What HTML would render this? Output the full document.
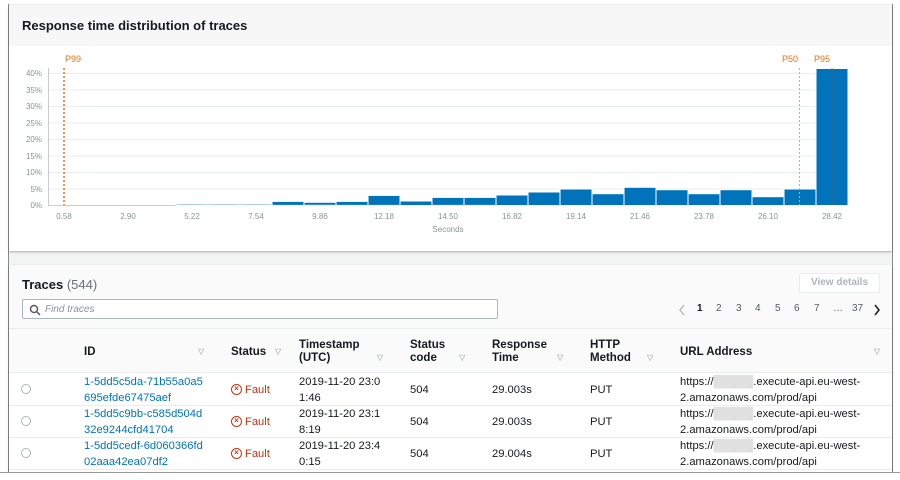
<!DOCTYPE html>
<html><head><meta charset="utf-8"><style>
*{margin:0;padding:0;box-sizing:border-box}
body{width:900px;height:480px;background:#fff;font-family:"Liberation Sans",Arial,sans-serif;position:relative;overflow:hidden}
.frame{position:absolute;left:8px;top:4px;width:885px;height:470px;background:#f2f3f3;border-left:1px solid #888;border-right:1px solid #888}
.p{position:absolute;left:9px;width:883px;background:#fff;box-shadow:0 1px 2px rgba(0,0,0,.3)}
.a{position:absolute;white-space:nowrap}
.h{font-weight:bold;color:#16191f;font-size:11.5px;line-height:13px}
.c{font-size:11.2px;color:#16191f;line-height:16px}
.lnk{color:#0073bb}
.tri{font-size:8px;color:#879596}
.pg{position:absolute;top:38px;font-size:10px;color:#545b64}
.f{display:inline-block;width:11px;height:11px;border:1.5px solid #d13212;border-radius:50%;font-size:8px;line-height:8px;text-align:center;font-weight:bold;vertical-align:top;margin-top:2px;margin-right:3px}
</style></head><body>
<div class="frame"></div>
<div class="p" style="top:5px;height:246px">
 <div style="position:absolute;left:0;top:0;width:100%;height:41px;background:#f7f7f7"></div>
 <div class="a" style="left:13px;top:13px;font-weight:bold;font-size:13px;color:#16191f">Response time distribution of traces</div>
</div>
<svg style="position:absolute;left:0;top:0" width="900" height="260" font-family="Liberation Sans,Arial,sans-serif">
 <g stroke="#eaeded" stroke-width="1">
  <line x1="49" x2="848" y1="73.5" y2="73.5"/><line x1="49" x2="848" y1="90" y2="90"/><line x1="49" x2="848" y1="106.5" y2="106.5"/><line x1="49" x2="848" y1="123" y2="123"/><line x1="49" x2="848" y1="139.5" y2="139.5"/><line x1="49" x2="848" y1="156" y2="156"/><line x1="49" x2="848" y1="172.5" y2="172.5"/><line x1="49" x2="848" y1="189" y2="189"/>
 </g>
 <line x1="48.5" x2="48.5" y1="68" y2="206" stroke="#ccc"/>
 <line x1="48" x2="848" y1="205.5" y2="205.5" stroke="#ccc"/>
 <g font-size="8" fill="#879596" text-anchor="end">
  <text x="42" y="76">40%</text><text x="42" y="93">35%</text><text x="42" y="109">30%</text><text x="42" y="126">25%</text><text x="42" y="142">20%</text><text x="42" y="159">15%</text><text x="42" y="175">10%</text><text x="42" y="192">5%</text><text x="42" y="208">0%</text>
 </g>
 <g fill="#0073bb" stroke="#fff" stroke-width="1">
  <rect x="176" y="204" width="32" height="1.5" fill="#5a9fd4"/><rect x="208" y="204" width="32" height="1.5" fill="#5a9fd4"/><rect x="240" y="204" width="32" height="1.5" fill="#5a9fd4"/>
  <rect x="272" y="201.4" width="32" height="4"/><rect x="304" y="202.3" width="32" height="3"/><rect x="336" y="201.4" width="32" height="4"/><rect x="368" y="195.4" width="32" height="10"/><rect x="400" y="201" width="32" height="4.5"/><rect x="432" y="197.4" width="32" height="8"/><rect x="464" y="197.4" width="32" height="8"/><rect x="496" y="195" width="32" height="10.5"/><rect x="528" y="192" width="32" height="13.5"/><rect x="560" y="189" width="32" height="16.5"/><rect x="592" y="193.7" width="32" height="11.8"/><rect x="624" y="187.3" width="32" height="18.2"/><rect x="656" y="189.7" width="32" height="15.8"/><rect x="688" y="193.7" width="32" height="11.8"/><rect x="720" y="189.7" width="32" height="15.8"/><rect x="752" y="196.7" width="32" height="8.8"/><rect x="784" y="189" width="32" height="16.5"/><rect x="816" y="68.5" width="32" height="137"/>
 </g>
 <line x1="64" x2="64" y1="68" y2="205" stroke="#ec7211" stroke-width="1.5" stroke-dasharray="2,2"/>
 <line x1="799.5" x2="799.5" y1="68" y2="205" stroke="#f0a070" stroke-dasharray="2,2"/>
 <line x1="832" x2="832" y1="68" y2="205" stroke="#c04000" stroke-dasharray="2,2" opacity=".7"/>
 <g font-size="9" fill="#ec7211"><text x="65" y="62">P99</text><text x="782" y="62">P50</text><text x="814" y="62">P95</text></g>
 <g font-size="8" fill="#879596" text-anchor="middle">
  <text x="64" y="219">0.58</text><text x="128" y="219">2.90</text><text x="192" y="219">5.22</text><text x="256" y="219">7.54</text><text x="320" y="219">9.86</text><text x="384" y="219">12.18</text><text x="448" y="219">14.50</text><text x="512" y="219">16.82</text><text x="576" y="219">19.14</text><text x="640" y="219">21.46</text><text x="704" y="219">23.78</text><text x="768" y="219">26.10</text><text x="832" y="219">28.42</text>
  <text x="448" y="232">Seconds</text>
 </g>
</svg>
<div class="p" style="top:265px;height:215px">
 <div style="position:absolute;left:0;top:0;width:100%;height:108px;background:#fafafa"></div>
 <div class="a" style="left:13px;top:12px;font-size:13px"><b style="color:#16191f">Traces</b> <span style="color:#687078">(544)</span></div>
 <div class="a" style="left:13px;top:34px;width:476px;height:20px;border:1px solid #aab7b8;border-radius:2px;background:#fff"></div>
 <svg class="a" style="left:20px;top:39px" width="12" height="12"><circle cx="5" cy="5" r="3.5" fill="none" stroke="#545b64" stroke-width="1.5"/><line x1="7.5" y1="7.5" x2="11" y2="11" stroke="#545b64" stroke-width="1.5"/></svg>
 <div class="a" style="left:36px;top:39px;font-size:10px;font-style:italic;color:#879596">Find traces</div>
 <div class="a" style="left:790px;top:8px;width:81px;height:20px;border:1px solid #eaeded;border-radius:2px;background:#fff;font-size:10px;font-weight:bold;color:#aab7b8;text-align:center;line-height:18px">View details</div>
 <svg class="a" style="left:669px;top:39px" width="8" height="12"><polyline points="6,1 2,6 6,11" fill="none" stroke="#aab7b8" stroke-width="1.3"/></svg>
 <span class="pg" style="left:688px;font-weight:bold;color:#16191f">1</span>
 <span class="pg" style="left:707px">2</span><span class="pg" style="left:727px">3</span><span class="pg" style="left:746px">4</span><span class="pg" style="left:766px">5</span><span class="pg" style="left:785px">6</span><span class="pg" style="left:805px">7</span><span class="pg" style="left:824px">…</span><span class="pg" style="left:843px">37</span>
 <svg class="a" style="left:864px;top:39px" width="8" height="12"><polyline points="2,1 6,6 2,11" fill="none" stroke="#16191f" stroke-width="1.5"/></svg>
 <div style="position:absolute;left:0;top:63px;width:100%;height:45px;border-top:1px solid #eaeded;border-bottom:1px solid #eaeded"></div>
 <div class="a h" style="left:75px;top:81px">ID</div><div class="a tri" style="left:189px;top:82px">▽</div>
 <div class="a h" style="left:222px;top:81px">Status</div><div class="a tri" style="left:266px;top:82px">▽</div>
 <div class="a h" style="left:290px;top:74px">Timestamp<br>(UTC)</div><div class="a tri" style="left:368px;top:88px">▽</div>
 <div class="a h" style="left:401px;top:74px">Status<br>code</div><div class="a tri" style="left:450px;top:88px">▽</div>
 <div class="a h" style="left:483px;top:74px">Response<br>Time</div><div class="a tri" style="left:548px;top:88px">▽</div>
 <div class="a h" style="left:581px;top:74px">HTTP<br>Method</div><div class="a tri" style="left:638px;top:88px">▽</div>
 <div class="a h" style="left:671px;top:81px">URL Address</div><div class="a tri" style="left:865px;top:82px">▽</div>
 <div style="position:absolute;left:0;top:140px;width:100%;border-top:1px solid #eaeded"></div>
 <div style="position:absolute;left:0;top:172px;width:100%;border-top:1px solid #eaeded"></div>
 <div style="position:absolute;left:0;top:204px;width:100%;border-top:1px solid #eaeded"></div>
</div>
<div style="position:absolute;left:0;top:373px;width:900px">
 <div style="position:relative;height:32px">
  <div class="a" style="left:21px;top:11px;width:10px;height:10px;border:1px solid #aab7b8;border-radius:50%"></div>
  <div class="a c lnk" style="left:84px;top:1px">1-5dd5c5da-71b55a0a5<br>695efde67475aef</div>
  <div class="a c" style="left:231px;top:9px;color:#d13212"><span class="f">×</span>Fault</div>
  <div class="a c" style="left:299px;top:1px">2019-11-20 23:0<br>1:46</div>
  <div class="a c" style="left:410px;top:9px">504</div><div class="a c" style="left:492px;top:9px">29.003s</div><div class="a c" style="left:590px;top:9px">PUT</div>
  <div class="a c" style="left:680px;top:1px">https://<span style="color:#e0e0e0">█████</span>.execute-api.eu-west-<br>2.amazonaws.com/prod/api</div>
 </div>
 <div style="position:relative;height:32px">
  <div class="a" style="left:21px;top:11px;width:10px;height:10px;border:1px solid #aab7b8;border-radius:50%"></div>
  <div class="a c lnk" style="left:84px;top:1px">1-5dd5c9bb-c585d504d<br>32e9244cfd41704</div>
  <div class="a c" style="left:231px;top:9px;color:#d13212"><span class="f">×</span>Fault</div>
  <div class="a c" style="left:299px;top:1px">2019-11-20 23:1<br>8:19</div>
  <div class="a c" style="left:410px;top:9px">504</div><div class="a c" style="left:492px;top:9px">29.003s</div><div class="a c" style="left:590px;top:9px">PUT</div>
  <div class="a c" style="left:680px;top:1px">https://<span style="color:#e0e0e0">█████</span>.execute-api.eu-west-<br>2.amazonaws.com/prod/api</div>
 </div>
 <div style="position:relative;height:32px">
  <div class="a" style="left:21px;top:11px;width:10px;height:10px;border:1px solid #aab7b8;border-radius:50%"></div>
  <div class="a c lnk" style="left:84px;top:1px">1-5dd5cedf-6d060366fd<br>02aaa42ea07df2</div>
  <div class="a c" style="left:231px;top:9px;color:#d13212"><span class="f">×</span>Fault</div>
  <div class="a c" style="left:299px;top:1px">2019-11-20 23:4<br>0:15</div>
  <div class="a c" style="left:410px;top:9px">504</div><div class="a c" style="left:492px;top:9px">29.004s</div><div class="a c" style="left:590px;top:9px">PUT</div>
  <div class="a c" style="left:680px;top:1px">https://<span style="color:#e0e0e0">█████</span>.execute-api.eu-west-<br>2.amazonaws.com/prod/api</div>
 </div>
</div>
<div style="position:absolute;left:0;top:472px;width:900px;height:8px;background:#fff;border-top:1px solid #999"></div>
</body></html>
